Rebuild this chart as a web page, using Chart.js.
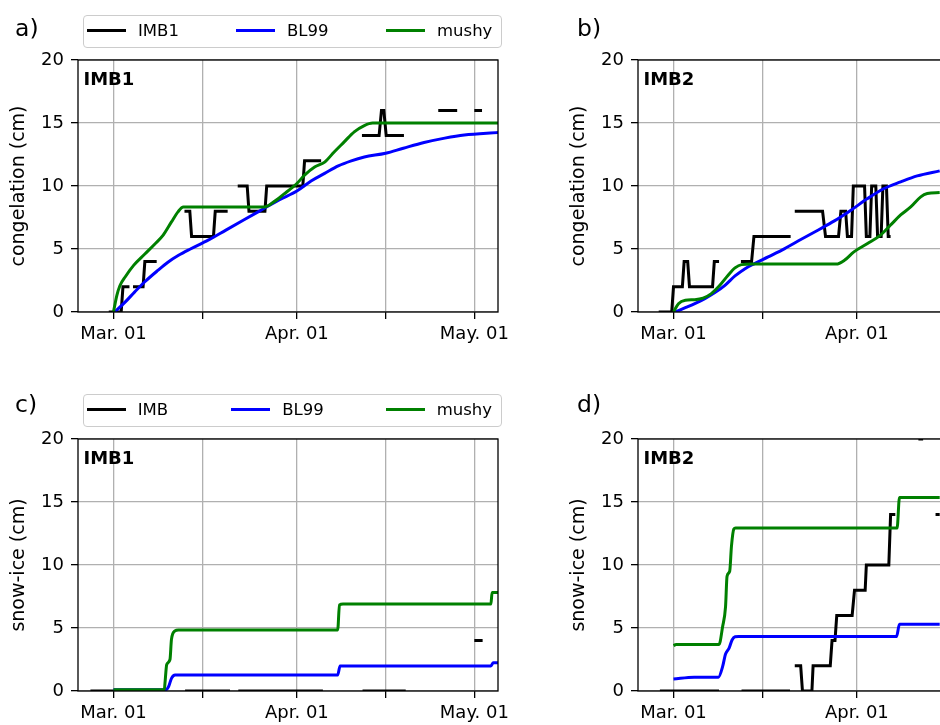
<!DOCTYPE html>
<html>
<head>
<meta charset="utf-8">
<script src="https://cdn.jsdelivr.net/npm/chart.js@4.4.1/dist/chart.umd.min.js"></script>
<style>
html, body { margin: 0; padding: 0; background: #fff; }
#page { position: relative; width: 940px; height: 725px; overflow: hidden; font-family: 'DejaVu Sans', sans-serif; color: #000; }
canvas { position: absolute; }
.lbl { position: absolute; font-size: 23.5px; line-height: 23.5px; white-space: nowrap; }
.leg { position: absolute; box-sizing: border-box; border: 1px solid #cccccc; border-radius: 4px; background: rgba(255,255,255,0.8); }
.legline { position: absolute; height: 3px; }
.legtxt { position: absolute; font-size: 16.5px; line-height: 20px; white-space: nowrap; }
</style>
</head>
<body>
<div id="page">
  <canvas id="ca" width="520" height="310" style="left:0px;top:40px"></canvas>
  <canvas id="cb" width="520" height="310" style="left:560px;top:40px"></canvas>
  <canvas id="cc" width="520" height="310" style="left:0px;top:419.3px"></canvas>
  <canvas id="cd" width="520" height="310" style="left:560px;top:419.3px"></canvas>
</div>
<script>
// x = days since Mar. 01
const tickDays = [0, 15, 31, 46, 61];
const tickText = ['Mar. 01', '', 'Apr. 01', '', 'May. 01'];
const legendA = ['IMB1', 'BL99', 'mushy'];
const legendC = ['IMB', 'BL99', 'mushy'];
const colors = ['#000000', '#0000ff', '#008000'];

// a) congelation, IMB1
const aImbX = [-0.8, 1.3, 1.6, 2.7, 2.7, 3.3, 5.0, 5.3, 7.3, 7.3, 12.0, 12.9, 13.2, 16.9, 17.2, 19.3, 19.3, 21.0, 22.6, 22.9, 25.6, 25.9, 32.0, 32.3, 35.1, 35.1, 42.0, 44.9, 45.3, 45.7, 46.1, 49.1, 49.1, 54.9, 58.1, 58.1, 61.0, 62.3];
const aImbY = [0, 0, 2, 2, null, 2, 2, 4, 4, null, 8, 8, 6, 6, 8, 8, null, 10, 10, 8, 8, 10, 10, 12, 12, null, 14, 14, 16, 16, 14, 14, null, 16, 16, null, 16, 16];
const aBlX = [0.2, 2, 3.6, 5.3, 7.5, 9.2, 11, 13, 16, 19, 22, 25, 28, 31, 33.4, 35.7, 38, 40.2, 42.4, 46, 49, 52.5, 56, 59.3, 65];
const aBlY = [0, 0.8, 1.6, 2.4, 3.3, 3.95, 4.5, 5.0, 5.7, 6.5, 7.3, 8.1, 8.9, 9.6, 10.4, 11.0, 11.6, 12.0, 12.3, 12.6, 13.0, 13.45, 13.8, 14.05, 14.25];
const aMuX = [0, 0.56, 1.1, 2.0, 3.4, 5.3, 7.0, 8.4, 9.8, 10.9, 11.8, 25.5, 27.1, 28.8, 31, 32.3, 34, 35.7, 37.3, 39, 40.7, 42.4, 43.8, 65];
const aMuY = [0, 1.3, 2.1, 2.8, 3.7, 4.6, 5.4, 6.1, 7.15, 7.95, 8.34, 8.34, 8.74, 9.35, 10.2, 10.86, 11.5, 11.9, 12.7, 13.5, 14.3, 14.8, 15.0, 15.0];

// b) congelation, IMB2
const bImbX = [-2.5, -0.3, 0, 1.5, 1.8, 2.4, 2.7, 6.6, 6.9, 7.7, 7.7, 11.4, 13.2, 13.6, 19.8, 19.8, 20.5, 25.2, 25.7, 27.9, 28.3, 29.1, 29.4, 30.1, 30.4, 32.3, 32.6, 33.2, 33.5, 34.2, 34.5, 35.1, 35.4, 36.0, 36.3, 36.7];
const bImbY = [0, 0, 2, 2, 4, 4, 2, 2, 4, 4, null, 4, 4, 6, 6, null, 8, 8, 6, 6, 8, 8, 6, 6, 10, 10, 6, 6, 10, 10, 6, 6, 10, 10, 6, 6];
const bBlX = [0.3, 2.0, 3.6, 5.3, 7.0, 8.7, 10.4, 12.1, 13.7, 16.0, 18.8, 21.6, 24.4, 27.2, 30.0, 32.8, 35.6, 38.4, 41.2, 45];
const bBlY = [0, 0.34, 0.66, 1.06, 1.54, 2.12, 2.86, 3.44, 3.84, 4.37, 5.03, 5.77, 6.49, 7.23, 8.08, 9.0, 9.8, 10.33, 10.8, 11.2];
const bMuX = [0, 0.84, 2.0, 3.6, 5.0, 6.4, 7.8, 9.2, 10.4, 11.5, 13.2, 27.5, 28.9, 30.5, 32.8, 35.0, 36.7, 38.4, 40.1, 41.8, 42.9, 45];
const bMuY = [0, 0.66, 0.93, 0.98, 1.1, 1.46, 2.1, 2.9, 3.5, 3.76, 3.8, 3.8, 4.1, 4.77, 5.43, 6.1, 6.9, 7.7, 8.34, 9.14, 9.4, 9.48];

// c) snow-ice, IMB1
const cImbX = [-3.9, 0.5, 0.5, 12.1, 19.7, 19.7, 21.1, 35.4, 35.4, 42.1, 49.4, 49.4, 61.0, 62.4];
const cImbY = [0, 0, null, 0, 0, null, 0, 0, null, 0, 0, null, 4, 4];
const cBlX = [0, 8.8, 9.3, 9.8, 10.4, 37.9, 38.3, 63.8, 64.2, 65];
const cBlY = [0.1, 0.1, 0.34, 1.0, 1.27, 1.27, 1.99, 1.99, 2.25, 2.25];
const cMuX = [0, 8.6, 8.7, 9.0, 9.55, 9.8, 10.4, 10.96, 37.9, 38.2, 38.8, 63.8, 64.0, 65];
const cMuY = [0.1, 0.1, 0.6, 2.1, 2.5, 4.1, 4.77, 4.85, 4.85, 6.83, 6.9, 6.9, 7.81, 7.81];

// d) snow-ice, IMB2
const dImbX = [-2.3, 7.7, 7.7, 11.5, 19.7, 19.7, 20.5, 21.5, 21.8, 23.4, 23.6, 26.5, 26.8, 27.3, 27.6, 30.2, 30.6, 32.4, 32.6, 36.4, 36.7, 37.5, 37.5, 41.4, 42.2, 42.2, 44.3, 45];
const dImbY = [0, 0, null, 0, 0, null, 2, 2, 0, 0, 2, 2, 4, 4, 6, 6, 8, 8, 10, 10, 14, 14, null, 20, 20, null, 14, 14];
const dBlX = [0, 3.5, 7.6, 8.3, 8.8, 9.4, 9.9, 10.4, 11.0, 37.7, 38.2, 45];
const dBlY = [0.95, 1.1, 1.1, 1.93, 2.94, 3.4, 4.05, 4.3, 4.32, 4.32, 5.3, 5.3];
const dMuX = [0, 0.45, 7.7, 8.3, 8.8, 9.05, 9.5, 9.8, 10.2, 10.5, 37.8, 38.2, 45];
const dMuY = [3.6, 3.7, 3.7, 5.1, 6.7, 9.1, 9.5, 11.5, 12.85, 12.93, 12.93, 15.36, 15.36];

Chart.defaults.font.family = "'DejaVu Sans', sans-serif";
Chart.defaults.color = '#000';

// box round the axes plus the bold tag in the corner
const frame = {
  id: 'frame',
  afterDatasetsDraw(chart, args, opts) {
    const a = chart.chartArea, ctx = chart.ctx;
    ctx.save();
    ctx.strokeStyle = '#000';
    ctx.lineWidth = 1.3;
    ctx.strokeRect(a.left, a.top, a.right - a.left, a.bottom - a.top);
    ctx.font = "bold 18px 'DejaVu Sans'";
    ctx.fillStyle = '#000';
    ctx.textBaseline = 'alphabetic';
    ctx.fillText(opts.tag, a.left + 5.5, a.top + 25);
    ctx.restore();
  }
};

function pts(xs, ys) {
  return xs.map((x, i) => ({ x: x, y: ys[i] }));
}

function grid() {
  return { color: '#b0b0b0', lineWidth: 1.3, tickColor: '#000', tickWidth: 1.3, tickLength: 7 };
}

function panel(id, tag, ylabel, imb, bl, mu) {
  const sets = [imb, bl, mu].map((s, i) => ({
    data: pts(s[0], s[1]),
    borderColor: colors[i],
    borderWidth: 3,
    pointRadius: 0,
    tension: 0,
    cubicInterpolationMode: i === 0 ? 'default' : 'monotone',
    spanGaps: false,
    clip: 0,
    order: 3 - i
  }));
  new Chart(document.getElementById(id), {
    type: 'line',
    data: { datasets: sets },
    options: {
      responsive: false,
      animation: false,
      layout: { padding: { top: 20, right: 22, left: 0, bottom: 0 } },
      plugins: { legend: { display: false }, tooltip: { enabled: false }, frame: { tag: tag } },
      scales: {
        x: {
          type: 'linear', min: -6, max: 65,
          afterFit: s => { s.height = 38; },
          afterBuildTicks: s => { s.ticks = tickDays.map(v => ({ value: v })); },
          grid: grid(),
          border: { display: false },
          ticks: {
            padding: 5, maxRotation: 0, autoSkip: false, font: { size: 18 }, color: '#000',
            callback: v => { const k = tickDays.indexOf(v); return k < 0 ? '' : tickText[k]; }
          }
        },
        y: {
          min: 0, max: 20,
          afterFit: s => { s.width = 78; },
          grid: grid(),
          border: { display: false },
          ticks: { stepSize: 5, padding: 7, font: { size: 18 }, color: '#000' },
          title: { display: true, text: ylabel, font: { size: 19 }, color: '#000', padding: { top: 8, bottom: 0 } }
        }
      }
    },
    plugins: [frame]
  });
}

panel('ca', 'IMB1', 'congelation (cm)', [aImbX, aImbY], [aBlX, aBlY], [aMuX, aMuY]);
panel('cb', 'IMB2', 'congelation (cm)', [bImbX, bImbY], [bBlX, bBlY], [bMuX, bMuY]);
panel('cc', 'IMB1', 'snow-ice (cm)', [cImbX, cImbY], [cBlX, cBlY], [cMuX, cMuY]);
panel('cd', 'IMB2', 'snow-ice (cm)', [dImbX, dImbY], [dBlX, dBlY], [dMuX, dMuY]);

// panel letters and the two legends (html text)
const page = document.getElementById('page');
function add(cls, css, text) {
  const el = document.createElement('div');
  el.className = cls;
  el.style.cssText = css;
  if (text) el.textContent = text;
  page.appendChild(el);
}
add('lbl', 'left:15px;top:16.5px', 'a)');
add('lbl', 'left:577px;top:16.5px', 'b)');
add('lbl', 'left:15px;top:393px', 'c)');
add('lbl', 'left:577px;top:393px', 'd)');

function legend(top, labels, lineX, textX) {
  add('leg', 'left:82.7px;top:' + top + 'px;width:419.3px;height:32.5px');
  labels.forEach((t, i) => {
    add('legline', 'left:' + lineX[i] + 'px;top:' + (top + 14.3) + 'px;width:39px;background:' + colors[i]);
    add('legtxt', 'left:' + textX[i] + 'px;top:' + (top + 6) + 'px', t);
  });
}
legend(15, legendA, [87, 236, 386], [138, 287, 437]);
legend(394, legendC, [87, 230.7, 386], [137.7, 282.3, 436.7]);
</script>
</body>
</html>
